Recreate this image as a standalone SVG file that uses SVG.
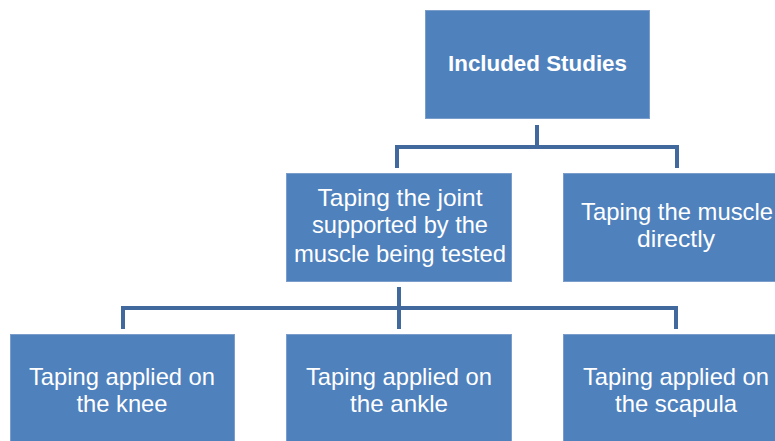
<svg xmlns="http://www.w3.org/2000/svg" width="775" height="441" viewBox="0 0 775 441">
<style>
.box{fill:#4F81BD;stroke:#7A9DCB;stroke-width:1}
.t{fill:#FFFFFF;font-family:"Liberation Sans",Arial,sans-serif;font-size:24px;text-anchor:middle}
.b{font-weight:bold;font-size:22px}
.c{fill:none;stroke:#41699E;stroke-width:4;stroke-linejoin:miter;stroke-linecap:butt}
</style>
<rect width="775" height="441" fill="#FFFFFF"/>
<g id="connectors">
<path class="c" d="M537 125V147M397 168V147H677V168"/>
<path class="c" d="M399 287V308M123 329V308H676V329M399 308V329"/>
</g>
<g id="included">
<rect class="box" x="425.5" y="10.5" width="224" height="108"/>
<text class="t b" x="537.5" y="71" textLength="179" lengthAdjust="spacingAndGlyphs">Included Studies</text>
</g>
<g id="joint">
<rect class="box" x="286.5" y="173.5" width="225" height="108"/>
<text class="t" x="400" y="206" textLength="165" lengthAdjust="spacingAndGlyphs">Taping the joint</text>
<text class="t" x="400" y="233" textLength="176" lengthAdjust="spacingAndGlyphs">supported by the</text>
<text class="t" x="400" y="262" textLength="212" lengthAdjust="spacingAndGlyphs">muscle being tested</text>
</g>
<g id="muscle">
<rect class="box" x="563.5" y="173.5" width="213" height="108"/>
<text class="t" x="677" y="220" textLength="192" lengthAdjust="spacingAndGlyphs">Taping the muscle</text>
<text class="t" x="676" y="247" textLength="78" lengthAdjust="spacingAndGlyphs">directly</text>
</g>
<g id="knee">
<rect class="box" x="10.5" y="334.5" width="224" height="110"/>
<text class="t" x="122" y="385" textLength="186" lengthAdjust="spacingAndGlyphs">Taping applied on</text>
<text class="t" x="122" y="412" textLength="91" lengthAdjust="spacingAndGlyphs">the knee</text>
</g>
<g id="ankle">
<rect class="box" x="286.5" y="334.5" width="225" height="110"/>
<text class="t" x="399" y="385" textLength="186" lengthAdjust="spacingAndGlyphs">Taping applied on</text>
<text class="t" x="399" y="412" textLength="98" lengthAdjust="spacingAndGlyphs">the ankle</text>
</g>
<g id="scapula">
<rect class="box" x="563.5" y="334.5" width="213" height="110"/>
<text class="t" x="676" y="385" textLength="186" lengthAdjust="spacingAndGlyphs">Taping applied on</text>
<text class="t" x="676" y="412" textLength="122" lengthAdjust="spacingAndGlyphs">the scapula</text>
</g>
</svg>
